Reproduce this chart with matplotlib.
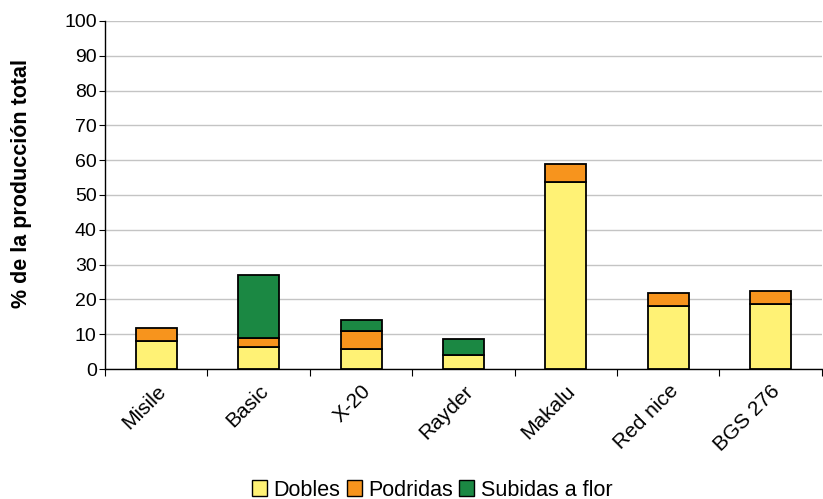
import numpy as np
import matplotlib
matplotlib.use('Agg')
import matplotlib.pyplot as plt
from matplotlib.patches import Patch

plt.rcParams['font.family'] = ['Liberation Sans', 'DejaVu Sans']

variedades = ['Misile', 'Basic', 'X-20', 'Rayder', 'Makalu', 'Red nice', 'BGS 276']
dobles = [8.1, 6.3, 5.8, 4.0, 53.8, 18.2, 18.7]
podridas = [3.7, 2.7, 5.1, 0.0, 5.1, 3.7, 3.6]
subidas = [0.0, 18.0, 3.2, 4.6, 0.0, 0.0, 0.0]

AMARILLO, NARANJA, VERDE = '#FFF275', '#F7941D', '#1B8843'

fig = plt.figure(figsize=(8.23, 4.99), dpi=100)
ax = fig.add_axes([0.1276, 0.2605, 0.871, 0.6975])

x = np.arange(len(variedades))
d = np.array(dobles); p = np.array(podridas); s = np.array(subidas)
kw = dict(width=0.4, edgecolor='black', linewidth=1.3, zorder=3)
ax.bar(x, d, color=AMARILLO, **kw)
ax.bar(x[p > 0], p[p > 0], bottom=d[p > 0], color=NARANJA, **kw)
ax.bar(x[s > 0], s[s > 0], bottom=(d + p)[s > 0], color=VERDE, **kw)

ax.set_xlim(-0.5, len(variedades) - 0.5)
ax.set_ylim(0, 100)
ax.set_yticks(range(0, 101, 10))
ax.tick_params(axis='y', labelsize=14, length=4, direction='out', width=0.8, pad=2)
ax.yaxis.grid(True, color='#c4c4c4', linewidth=1.0, zorder=0)
ax.set_axisbelow(True)

ax.set_xticks(x)
ax.set_xticklabels(variedades, rotation=45, ha='right', rotation_mode='anchor', fontsize=15)
ax.tick_params(axis='x', which='major', length=0, pad=9)
ax.set_xticks(np.arange(-0.5, len(variedades), 1.0), minor=True)
ax.tick_params(axis='x', which='minor', length=5, width=0.8, direction='out')

for sp in ['top', 'right']:
    ax.spines[sp].set_visible(False)
for sp in ['left', 'bottom']:
    ax.spines[sp].set_linewidth(1.0)

ax.set_ylabel('% de la producción total', fontsize=15.5, fontweight='bold')
ax.yaxis.set_label_coords(-0.102, 0.534)

handles = [Patch(facecolor=c, edgecolor='black', linewidth=1.0) for c in (AMARILLO, NARANJA, VERDE)]
fig.legend(handles, ['Dobles', 'Podridas', 'Subidas a flor'], loc='center', bbox_to_anchor=(0.525, 0.018),
           ncol=3, frameon=False, fontsize=15.5, handlelength=0.7, handleheight=0.7,
           handletextpad=0.3, columnspacing=0.3)

fig.savefig('out.png', dpi=100)
